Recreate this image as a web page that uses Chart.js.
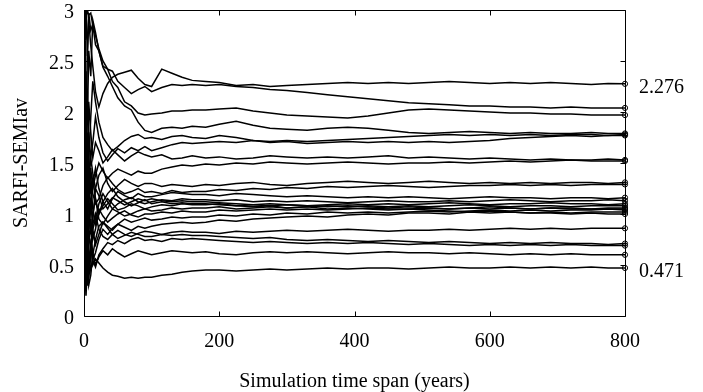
<!DOCTYPE html>
<html lang="en">
<head>
    <meta charset="UTF-8">
    <script src="https://cdn.jsdelivr.net/npm/chart.js@4.4.1/dist/chart.umd.min.js"></script>
    <title>SARFI-SEMIav simulation</title>
    <style>
        body { margin: 0; background: #fff; }
        canvas { display: block; }
    </style>
</head>
<body>
    <canvas id="sarfiChart" width="703" height="392"></canvas>

    <script>
        // simulation years where each run is sampled
        const years = [1, 2, 3, 5, 7, 10, 13, 17, 22, 28, 35, 42, 50, 60, 70, 80, 90, 100, 115, 130, 145, 160, 180, 200, 225,
                       250, 275, 300, 330, 360, 390, 420, 450, 480, 510, 540, 570, 600, 630, 660, 690, 720, 750, 775, 800];

        // running SARFI-SEMIav estimate of each simulation run
        const run01 = [3.30, 2.70, 3.05, 2.55, 2.90, 2.65, 2.45, 2.20, 2.05, 2.18, 2.28, 2.34, 2.37, 2.39, 2.41, 2.33, 2.27, 2.25, 2.42, 2.38, 2.34, 2.31, 2.30, 2.29, 2.26,
                       2.27, 2.25, 2.26, 2.27, 2.28, 2.29, 2.28, 2.29, 2.28, 2.29, 2.30, 2.29, 2.28, 2.29, 2.28, 2.29, 2.28, 2.27, 2.28, 2.276];
        const run02 = [2.40, 3.20, 2.90, 3.00, 2.95, 2.97, 2.85, 2.75, 2.62, 2.50, 2.42, 2.40, 2.30, 2.24, 2.18, 2.22, 2.25, 2.20, 2.24, 2.27, 2.26, 2.27, 2.26, 2.27, 2.25,
                       2.24, 2.22, 2.21, 2.19, 2.17, 2.15, 2.13, 2.11, 2.09, 2.08, 2.07, 2.06, 2.06, 2.05, 2.05, 2.04, 2.05, 2.04, 2.04, 2.04];
        const run03 = [1.20, 2.10, 1.60, 2.60, 2.97, 2.80, 2.86, 2.66, 2.60, 2.45, 2.42, 2.30, 2.24, 2.10, 2.06, 1.99, 1.97, 1.98, 1.99, 2.01, 2.01, 2.02, 2.02, 2.03, 2.04,
                       2.01, 1.99, 1.97, 1.96, 1.95, 1.94, 1.96, 1.99, 2.02, 2.03, 2.02, 2.01, 2.00, 1.99, 1.99, 1.98, 1.98, 1.97, 1.97, 1.97];
        const run04 = [0.80, 1.50, 2.40, 1.90, 2.60, 2.35, 2.90, 2.78, 2.60, 2.44, 2.35, 2.25, 2.14, 2.06, 2.02, 1.90, 1.82, 1.80, 1.84, 1.85, 1.84, 1.86, 1.85, 1.88, 1.91,
                       1.87, 1.84, 1.83, 1.82, 1.84, 1.85, 1.84, 1.82, 1.80, 1.79, 1.80, 1.81, 1.80, 1.79, 1.80, 1.79, 1.79, 1.80, 1.79, 1.79];
        const run05 = [2.00, 1.20, 1.70, 2.20, 1.50, 1.95, 2.30, 2.10, 1.90, 1.75, 1.68, 1.62, 1.66, 1.72, 1.76, 1.78, 1.74, 1.75, 1.73, 1.76, 1.77, 1.75, 1.74, 1.77, 1.75,
                       1.72, 1.71, 1.72, 1.71, 1.72, 1.73, 1.74, 1.75, 1.76, 1.77, 1.78, 1.77, 1.78, 1.77, 1.78, 1.77, 1.78, 1.78, 1.77, 1.78];
        const run06 = [1.40, 2.70, 1.90, 1.50, 1.80, 1.55, 1.70, 1.95, 1.75, 1.60, 1.52, 1.58, 1.64, 1.60, 1.65, 1.62, 1.66, 1.62, 1.65, 1.68, 1.70, 1.69, 1.70, 1.71, 1.70,
                       1.72, 1.70, 1.71, 1.69, 1.70, 1.71, 1.70, 1.71, 1.70, 1.71, 1.70, 1.71, 1.72, 1.74, 1.75, 1.76, 1.77, 1.76, 1.77, 1.77];
        const run07 = [0.60, 1.80, 1.10, 1.40, 2.10, 1.80, 1.55, 1.70, 1.62, 1.50, 1.56, 1.63, 1.58, 1.52, 1.57, 1.61, 1.58, 1.56, 1.58, 1.54, 1.55, 1.57, 1.55, 1.56, 1.54,
                       1.55, 1.57, 1.56, 1.55, 1.56, 1.55, 1.56, 1.57, 1.55, 1.56, 1.55, 1.54, 1.55, 1.54, 1.53, 1.54, 1.53, 1.53, 1.54, 1.53];
        const run08 = [2.20, 0.90, 1.30, 1.00, 1.20, 1.45, 1.25, 1.38, 1.50, 1.42, 1.35, 1.40, 1.44, 1.41, 1.38, 1.42, 1.40, 1.40, 1.44, 1.46, 1.48, 1.47, 1.49, 1.48, 1.50,
                       1.49, 1.51, 1.50, 1.49, 1.50, 1.51, 1.50, 1.49, 1.50, 1.50, 1.51, 1.50, 1.51, 1.52, 1.51, 1.52, 1.53, 1.52, 1.52, 1.52];
        const run09 = [1.00, 0.50, 1.40, 1.80, 1.30, 1.10, 0.95, 1.25, 1.38, 1.45, 1.30, 1.22, 1.28, 1.34, 1.30, 1.27, 1.30, 1.30, 1.27, 1.29, 1.28, 1.27, 1.29, 1.28, 1.30,
                       1.31, 1.29, 1.28, 1.30, 1.31, 1.32, 1.31, 1.30, 1.31, 1.32, 1.31, 1.30, 1.31, 1.30, 1.31, 1.30, 1.31, 1.31, 1.30, 1.31];
        const run10 = [0.30, 1.10, 0.70, 0.95, 1.50, 1.35, 1.20, 1.10, 1.15, 1.28, 1.36, 1.30, 1.24, 1.20, 1.22, 1.25, 1.21, 1.22, 1.20, 1.23, 1.21, 1.22, 1.22, 1.24, 1.23,
                       1.25, 1.24, 1.26, 1.25, 1.27, 1.26, 1.27, 1.28, 1.27, 1.26, 1.27, 1.28, 1.28, 1.29, 1.28, 1.29, 1.28, 1.29, 1.29, 1.29];
        const run11 = [1.60, 2.30, 1.80, 1.20, 0.85, 1.05, 1.30, 1.45, 1.25, 1.12, 1.05, 1.15, 1.22, 1.18, 1.15, 1.20, 1.17, 1.17, 1.19, 1.21, 1.20, 1.19, 1.19, 1.18, 1.20,
                       1.19, 1.18, 1.17, 1.18, 1.17, 1.16, 1.17, 1.16, 1.17, 1.16, 1.15, 1.16, 1.17, 1.16, 1.16, 1.15, 1.16, 1.16, 1.15, 1.16];
        const run12 = [0.40, 0.80, 1.20, 0.60, 0.90, 1.15, 0.85, 0.95, 1.10, 1.20, 1.12, 1.05, 1.10, 1.14, 1.16, 1.12, 1.10, 1.12, 1.14, 1.13, 1.15, 1.14, 1.14, 1.13, 1.14,
                       1.12, 1.13, 1.12, 1.13, 1.12, 1.11, 1.12, 1.13, 1.12, 1.12, 1.13, 1.12, 1.13, 1.14, 1.13, 1.12, 1.13, 1.13, 1.14, 1.13];
        const run13 = [2.50, 1.70, 2.10, 1.40, 1.10, 1.30, 1.05, 0.90, 1.00, 1.08, 1.15, 1.10, 1.04, 1.06, 1.10, 1.08, 1.05, 1.07, 1.09, 1.08, 1.10, 1.09, 1.09, 1.10, 1.08,
                       1.09, 1.10, 1.09, 1.08, 1.09, 1.10, 1.09, 1.10, 1.09, 1.10, 1.11, 1.10, 1.09, 1.10, 1.10, 1.11, 1.10, 1.10, 1.09, 1.10];
        const run14 = [1.30, 0.70, 0.40, 0.90, 1.20, 0.80, 1.00, 1.15, 0.95, 0.90, 0.98, 1.05, 1.02, 0.98, 1.00, 1.03, 1.05, 1.03, 1.04, 1.06, 1.05, 1.06, 1.06, 1.07, 1.05,
                       1.06, 1.07, 1.06, 1.07, 1.08, 1.07, 1.08, 1.07, 1.08, 1.07, 1.08, 1.09, 1.08, 1.07, 1.08, 1.08, 1.07, 1.08, 1.08, 1.08];
        const run15 = [0.50, 1.40, 0.90, 0.30, 0.70, 0.95, 0.75, 0.85, 1.05, 0.98, 0.92, 0.96, 1.00, 1.03, 0.99, 0.97, 1.00, 1.00, 1.02, 1.01, 1.03, 1.02, 1.02, 1.04, 1.03,
                       1.04, 1.05, 1.04, 1.05, 1.04, 1.05, 1.06, 1.05, 1.05, 1.06, 1.05, 1.06, 1.07, 1.06, 1.05, 1.06, 1.06, 1.05, 1.06, 1.06];
        const run16 = [0.20, 0.90, 1.30, 0.55, 0.35, 0.60, 0.85, 0.70, 0.80, 0.92, 0.88, 0.84, 0.90, 0.95, 0.92, 0.94, 0.96, 0.94, 0.95, 0.97, 0.96, 0.97, 0.97, 0.99, 0.98,
                       1.00, 0.99, 1.01, 1.00, 1.02, 1.01, 1.02, 1.01, 1.02, 1.03, 1.02, 1.03, 1.04, 1.03, 1.04, 1.03, 1.04, 1.04, 1.05, 1.04];
        const run17 = [1.10, 0.60, 0.80, 1.00, 0.45, 0.70, 0.55, 0.62, 0.75, 0.85, 0.80, 0.86, 0.90, 0.87, 0.84, 0.88, 0.86, 0.88, 0.90, 0.91, 0.92, 0.91, 0.92, 0.94, 0.93,
                       0.95, 0.96, 0.97, 0.98, 0.97, 0.99, 1.00, 0.99, 1.01, 1.01, 1.00, 1.02, 1.01, 1.02, 1.01, 1.02, 1.01, 1.02, 1.02, 1.02];
        const run18 = [1.90, 1.20, 0.60, 1.10, 1.60, 1.20, 1.35, 1.15, 1.00, 1.12, 1.20, 1.25, 1.17, 1.12, 1.08, 1.11, 1.14, 1.10, 1.12, 1.10, 1.11, 1.10, 1.10, 1.09, 1.08,
                       1.07, 1.08, 1.06, 1.07, 1.05, 1.06, 1.05, 1.04, 1.05, 1.04, 1.03, 1.02, 1.03, 1.02, 1.01, 1.01, 1.00, 1.01, 1.00, 1.00];
        const run19 = [0.25, 0.60, 0.95, 1.10, 0.80, 0.65, 0.90, 1.00, 0.85, 0.78, 0.75, 0.80, 0.84, 0.80, 0.78, 0.81, 0.83, 0.82, 0.80, 0.82, 0.83, 0.82, 0.82, 0.81, 0.83,
                       0.82, 0.83, 0.84, 0.83, 0.84, 0.85, 0.84, 0.83, 0.84, 0.84, 0.85, 0.84, 0.85, 0.86, 0.85, 0.86, 0.85, 0.86, 0.86, 0.86];
        const run20 = [0.90, 1.50, 1.20, 0.70, 0.95, 0.85, 0.60, 0.75, 0.88, 0.92, 0.86, 0.80, 0.76, 0.79, 0.82, 0.80, 0.78, 0.78, 0.80, 0.79, 0.80, 0.79, 0.79, 0.78, 0.77,
                       0.76, 0.77, 0.75, 0.74, 0.75, 0.74, 0.73, 0.74, 0.73, 0.72, 0.73, 0.72, 0.71, 0.72, 0.71, 0.72, 0.71, 0.71, 0.70, 0.71];
        const run21 = [0.35, 0.25, 0.50, 0.40, 0.60, 0.45, 0.55, 0.48, 0.60, 0.66, 0.72, 0.70, 0.74, 0.71, 0.75, 0.77, 0.74, 0.75, 0.73, 0.76, 0.75, 0.76, 0.75, 0.74, 0.73,
                       0.72, 0.73, 0.72, 0.71, 0.72, 0.71, 0.72, 0.71, 0.70, 0.71, 0.70, 0.69, 0.70, 0.69, 0.70, 0.69, 0.70, 0.69, 0.69, 0.69];
        const run22 = [0.70, 0.35, 0.20, 0.50, 0.30, 0.40, 0.62, 0.50, 0.58, 0.64, 0.60, 0.66, 0.62, 0.58, 0.61, 0.64, 0.62, 0.60, 0.62, 0.64, 0.63, 0.62, 0.63, 0.61, 0.60,
                       0.62, 0.63, 0.62, 0.63, 0.62, 0.61, 0.62, 0.63, 0.62, 0.62, 0.61, 0.62, 0.61, 0.60, 0.61, 0.60, 0.61, 0.60, 0.60, 0.60];
        const run23 = [0.80, 0.40, 0.60, 0.30, 0.55, 0.70, 0.50, 0.56, 0.52, 0.47, 0.43, 0.40, 0.39, 0.37, 0.38, 0.37, 0.38, 0.38, 0.40, 0.41, 0.43, 0.44, 0.45, 0.45, 0.44,
                       0.45, 0.46, 0.45, 0.46, 0.47, 0.46, 0.47, 0.47, 0.46, 0.47, 0.48, 0.47, 0.47, 0.48, 0.47, 0.48, 0.47, 0.48, 0.47, 0.471];
        const run24 = [2.70, 2.00, 1.50, 1.75, 1.30, 1.55, 1.40, 1.25, 1.18, 1.05, 1.10, 1.16, 1.13, 1.09, 1.12, 1.15, 1.13, 1.15, 1.13, 1.12, 1.13, 1.12, 1.12, 1.11, 1.10,
                       1.09, 1.08, 1.09, 1.08, 1.07, 1.08, 1.07, 1.06, 1.07, 1.06, 1.05, 1.06, 1.05, 1.06, 1.05, 1.06, 1.05, 1.05, 1.05, 1.05];

        const runs = [run01, run02, run03, run04, run05, run06, run07, run08, run09, run10, run11, run12,
                      run13, run14, run15, run16, run17, run18, run19, run20, run21, run22, run23, run24];

        // final values written next to the right axis (highest and lowest run)
        const labelledRuns = [run01, run23];

        const serif = 'Liberation Serif, Times New Roman, serif';
        const lastIdx = years.length - 1;

        // box around the plot with inward ticks, plus the end value labels
        const framePlugin = {
            id: 'frame',
            afterDraw(chart) {
                const { ctx, chartArea: a, scales: { x, y } } = chart;
                const tick = 5;
                const l = Math.round(a.left) + 0.5, r = Math.round(a.right) + 0.5;
                const t = Math.round(a.top) + 0.5, b = Math.round(a.bottom) + 0.5;
                ctx.save();
                ctx.strokeStyle = '#000';
                ctx.lineWidth = 1;
                ctx.beginPath();
                ctx.moveTo(l, t); ctx.lineTo(r, t); ctx.lineTo(r, b); ctx.lineTo(l, b); ctx.closePath();
                x.ticks.forEach(tk => {
                    const px = Math.round(x.getPixelForValue(tk.value)) + 0.5;
                    ctx.moveTo(px, b); ctx.lineTo(px, b - tick);
                    ctx.moveTo(px, t); ctx.lineTo(px, t + tick);
                });
                y.ticks.forEach(tk => {
                    const py = Math.round(y.getPixelForValue(tk.value)) + 0.5;
                    ctx.moveTo(l, py); ctx.lineTo(l + tick, py);
                    ctx.moveTo(r, py); ctx.lineTo(r - tick, py);
                });
                ctx.stroke();

                ctx.fillStyle = '#000';
                ctx.font = '20px ' + serif;
                ctx.textAlign = 'left';
                ctx.textBaseline = 'middle';
                labelledRuns.forEach(run => {
                    const v = run[lastIdx];
                    ctx.fillText(v.toFixed(3), a.right + 14, y.getPixelForValue(v) + 4);
                });
                ctx.restore();
            }
        };

        const datasets = runs.map(run => ({
            data: run.map((v, i) => ({ x: years[i], y: v })),
            borderColor: '#000',
            borderWidth: 1.5,
            tension: 0,
            clip: { left: 0, top: 0, right: 5, bottom: 0 },
            pointRadius: c => (c.dataIndex === lastIdx ? 2.6 : 0),
            pointBorderWidth: 1,
            pointBorderColor: '#000',
            pointBackgroundColor: 'rgba(255,255,255,0)',
            pointHoverRadius: 0
        }));

        new Chart(document.getElementById('sarfiChart'), {
            type: 'line',
            data: { datasets },
            options: {
                responsive: false,
                animation: false,
                layout: { padding: { left: 0, right: 78, top: 10, bottom: 0 } },
                plugins: {
                    legend: { display: false },
                    tooltip: { enabled: false }
                },
                scales: {
                    x: {
                        type: 'linear',
                        min: 0,
                        max: 800,
                        afterFit: s => { s.height = 76; s.paddingLeft = 0; s.paddingRight = 0; },
                        grid: { display: false, drawTicks: false },
                        border: { display: false },
                        ticks: { stepSize: 200, padding: 14, color: '#000', font: { family: serif, size: 20 } },
                        title: {
                            display: true,
                            text: 'Simulation time span (years)',
                            color: '#000',
                            font: { family: serif, size: 20, lineHeight: 1 },
                            padding: { top: 0, bottom: 0 }
                        }
                    },
                    y: {
                        min: 0,
                        max: 3,
                        afterFit: s => { s.width = 84; s.paddingTop = 0; s.paddingBottom = 0; },
                        grid: { display: false, drawTicks: false },
                        border: { display: false },
                        ticks: {
                            stepSize: 0.5,
                            padding: 10,
                            labelOffset: 3,
                            color: '#000',
                            font: { family: serif, size: 20 },
                            callback: v => String(+v.toFixed(1))
                        },
                        title: {
                            display: true,
                            text: 'SARFI-SEMIav',
                            color: '#000',
                            font: { family: serif, size: 20, lineHeight: 1 },
                            padding: { top: 12, bottom: 0 }
                        }
                    }
                }
            },
            plugins: [framePlugin]
        });
    </script>
</body>
</html>
